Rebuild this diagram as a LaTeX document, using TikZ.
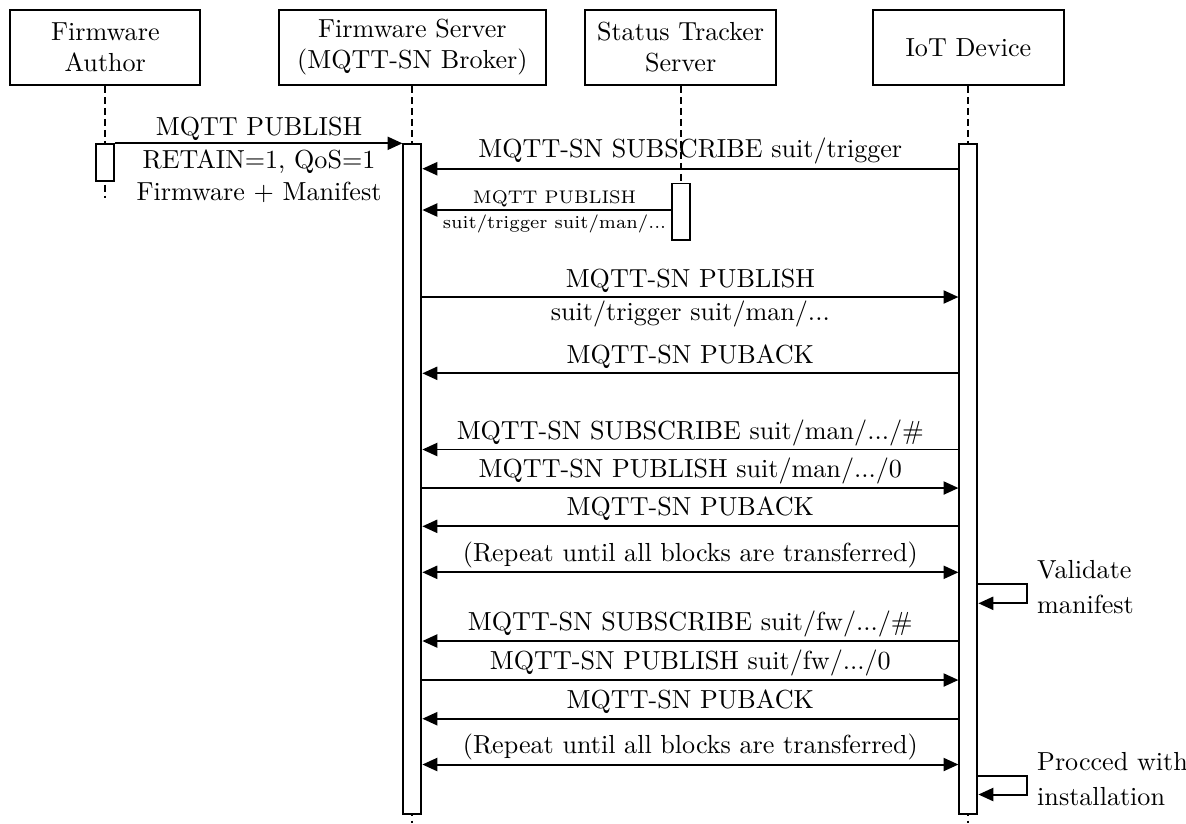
\documentclass[tikz,border=0pt]{standalone}
\usetikzlibrary{arrows.meta}
\begin{document}
\begin{tikzpicture}[x=0.3831pt,y=-0.3831pt,
  actor/.style={draw,line width=0.75pt,align=center,inner sep=1pt,minimum width=72.9pt,minimum height=28.9pt,font=\fontsize{10}{12}\selectfont},
  actbar/.style={draw,fill=white,line width=0.75pt,minimum width=6.9pt,inner sep=0pt,anchor=north},
  life/.style={line width=0.75pt,dash pattern=on 2.6pt off 1.6pt},
  msg/.style={line width=0.75pt,-{Triangle[length=5.7pt,width=5pt]}},
  dmsg/.style={line width=0.75pt,{Triangle[length=5.7pt,width=5pt]}-{Triangle[length=5.7pt,width=5pt]}},
  lbl/.style={anchor=base,inner sep=0pt,font=\fontsize{10}{12}\selectfont},
  slbl/.style={anchor=base,inner sep=0pt,font=\fontsize{7}{8.5}\selectfont},
  note/.style={anchor=base west,inner sep=0pt,font=\fontsize{10}{12}\selectfont}]

\useasboundingbox (0,0) rectangle (1186,823);

% participants
\node[actor] (author) at (105.3,47.35) {Firmware\\Author};
\node[actor,minimum width=102.4pt] (server) at (412.4,47.35) {Firmware Server\\(MQTT-SN Broker)};
\node[actor] (tracker) at (680.6,47.35) {Status Tracker\\Server};
\node[actor] (iot) at (968.4,47.35) {IoT Device};

% lifeline ends
\coordinate (authorend) at (105.3,198);
\coordinate (serverend) at (412.4,823);
\coordinate (trackerend) at (680.6,183);
\coordinate (iotend) at (968.4,823);

\draw[life] (author.south) -- (authorend);
\draw[life] (server.south) -- (serverend);
\draw[life] (tracker.south) -- (trackerend);
\draw[life] (iot.south) -- (iotend);

% message levels
\coordinate (y2) at (0,168.7);
\coordinate (y3) at (0,210);
\coordinate (y4) at (0,297);
\coordinate (y5) at (0,373.3);
\coordinate (y6) at (0,449.5);
\coordinate (y7) at (0,488);
\coordinate (y8) at (0,526.3);
\coordinate (y9) at (0,572.3);
\coordinate (sa1) at (0,584.3);
\coordinate (sb1) at (0,603.3);
\coordinate (y11) at (0,641);
\coordinate (y12) at (0,680);
\coordinate (y13) at (0,718.7);
\coordinate (y14) at (0,764.5);
\coordinate (sa2) at (0,776.3);
\coordinate (sb2) at (0,794.5);

% activation bars
\node[actbar,minimum height=14.2pt] (authorbar) at (105.3,143.3) {};
\node[actbar,minimum height=256.7pt] (serverbar) at (412.4,143.3) {};
\node[actbar,minimum height=21.5pt] (trackerbar) at (680.6,182.5) {};
\node[actbar,minimum height=256.7pt] (iotbar) at (968.4,143.3) {};

% messages
\draw[msg] (authorbar.north east) -- (serverbar.north west);
\draw[msg] (iotbar.west |- y2) -- (serverbar.east |- y2);
\draw[msg] (trackerbar.west |- y3) -- (serverbar.east |- y3);
\draw[msg] (serverbar.east |- y4) -- (iotbar.west |- y4);
\draw[msg] (iotbar.west |- y5) -- (serverbar.east |- y5);
\draw[msg] (iotbar.west |- y6) -- (serverbar.east |- y6);
\draw[msg] (serverbar.east |- y7) -- (iotbar.west |- y7);
\draw[msg] (iotbar.west |- y8) -- (serverbar.east |- y8);
\draw[dmsg] (serverbar.east |- y9) -- (iotbar.west |- y9);
\draw[msg] (iotbar.east |- sa1) -- ++(49,0) |- (iotbar.east |- sb1);
\draw[msg] (iotbar.west |- y11) -- (serverbar.east |- y11);
\draw[msg] (serverbar.east |- y12) -- (iotbar.west |- y12);
\draw[msg] (iotbar.west |- y13) -- (serverbar.east |- y13);
\draw[dmsg] (serverbar.east |- y14) -- (iotbar.west |- y14);
\draw[msg] (iotbar.east |- sa2) -- ++(49,0) |- (iotbar.east |- sb2);

% labels
\node[lbl] (l1a) at (259,135) {MQTT PUBLISH};
\node[lbl] (l1b) at (259,168.3) {RETAIN=1, QoS=1};
\node[lbl] (l1c) at (259,200) {Firmware + Manifest};
\node[lbl] (l2) at (690.3,157.8) {MQTT-SN SUBSCRIBE suit/trigger};
\node[slbl] (l3a) at (554.5,203.3) {MQTT PUBLISH};
\node[slbl] (l3b) at (554.5,228.3) {suit/trigger suit/man/...};
\node[lbl] (l4a) at (690.3,287.5) {MQTT-SN PUBLISH};
\node[lbl] (l4b) at (690.3,320.7) {suit/trigger suit/man/...};
\node[lbl] (l5) at (690.3,363) {MQTT-SN PUBACK};
\node[lbl] (l6) at (690.3,439.3) {MQTT-SN SUBSCRIBE suit/man/.../\#};
\node[lbl] (l7) at (690.3,477.7) {MQTT-SN PUBLISH suit/man/.../0};
\node[lbl] (l8) at (690.3,515.7) {MQTT-SN PUBACK};
\node[lbl] (l9) at (690.3,561) {(Repeat until all blocks are transferred)};
\node[lbl] (l11) at (690.3,630.7) {MQTT-SN SUBSCRIBE suit/fw/.../\#};
\node[lbl] (l12) at (690.3,669.5) {MQTT-SN PUBLISH suit/fw/.../0};
\node[lbl] (l13) at (690.3,708) {MQTT-SN PUBACK};
\node[lbl] (l14) at (690.3,753.5) {(Repeat until all blocks are transferred)};
\node[note] (n1a) at (1036.7,578) {Validate};
\node[note] (n1b) at (1036.7,613) {manifest};
\node[note] (n2a) at (1036.7,770) {Procced with};
\node[note] (n2b) at (1036.7,805) {installation};
\end{tikzpicture}
\end{document}
